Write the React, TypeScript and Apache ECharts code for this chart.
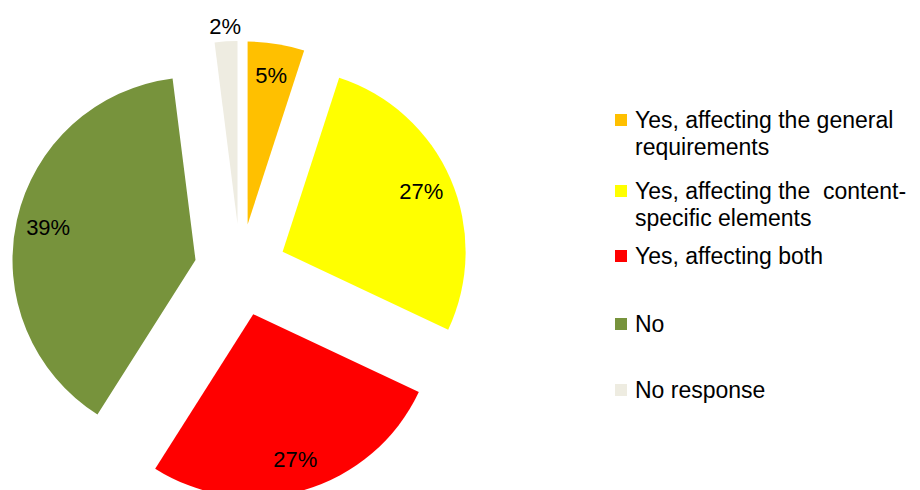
import React, { useEffect, useRef } from "react";
import * as echarts from "echarts";

const categories = [
  "Yes, affecting the general requirements",
  "Yes, affecting the  content-specific elements",
  "Yes, affecting both",
  "No",
  "No response",
];
// leading empty line keeps the legend icon level with the first text line
const legendLabels = [
  "\nYes, affecting the general\nrequirements",
  "\nYes, affecting the  content-\nspecific elements",
  "Yes, affecting both",
  "No",
  "No response",
];
const values = [5, 27, 27, 39, 2];
const colors = ["#FFC000", "#FFFF00", "#FF0000", "#77933C", "#EEECE1"];
const outsideLabelItems = ["No response"];

const FONT = "'Liberation Sans', Arial, sans-serif";

export default function App() {
  const ref = useRef<HTMLDivElement>(null);

  useEffect(() => {
    if (!ref.current) return;
    const chart = echarts.init(ref.current, null, { renderer: "svg" });

    const center = [240.4, 270];
    const R = 183;
    const offset = 46;

    const mainData = categories.map((name, i) => ({
      name,
      value: values[i],
      selected: true,
      itemStyle: { color: colors[i] },
    }));

    const innerLabelData = categories.map((name, i) => ({
      name,
      value: values[i],
      selected: true,
      itemStyle: { color: "rgba(0,0,0,0)" },
      label: { show: !outsideLabelItems.includes(name) },
    }));

    const outerLabelData = categories.map((name, i) => ({
      name,
      value: values[i],
      selected: true,
      itemStyle: { color: "rgba(0,0,0,0)" },
      label: { show: outsideLabelItems.includes(name) },
    }));

    const legendCenters = [120, 191, 256, 324, 390];
    const legends = legendLabels.map((lab, i) => {
      const lines = lab.split("\n").length;
      return {
        orient: "vertical",
        left: 615,
        top: legendCenters[i] - 6 - (lines * 27) / 2 + 6,
        padding: 0,
        itemWidth: 12,
        itemHeight: 12,
        icon: "rect",
        selectedMode: false,
        data: [categories[i]],
        formatter: () => lab,
        textStyle: {
          fontFamily: FONT,
          fontSize: 23,
          lineHeight: 27,
          color: "#000",
          padding: [0, 0, 0, 3],
        },
      };
    });

    const labelStyle = {
      position: "inside",
      fontFamily: FONT,
      fontSize: 22,
      color: "#000",
      formatter: (p: any) => `${p.value}%`,
    };

    chart.setOption({
      animation: false,
      backgroundColor: "#fff",
      legend: legends,
      series: [
        {
          type: "pie",
          center,
          radius: [0, R],
          startAngle: 90,
          clockwise: true,
          selectedMode: "multiple",
          selectedOffset: offset,
          label: { show: false },
          labelLine: { show: false },
          itemStyle: { borderWidth: 0 },
          emphasis: { disabled: true },
          silent: true,
          data: mainData,
        },
        {
          type: "pie",
          center,
          radius: [113, R],
          startAngle: 90,
          clockwise: true,
          selectedMode: "multiple",
          selectedOffset: offset,
          legendHoverLink: false,
          label: labelStyle,
          labelLine: { show: false },
          emphasis: { disabled: true },
          silent: true,
          data: innerLabelData,
        },
        {
          type: "pie",
          center,
          radius: [186, 204],
          startAngle: 90,
          clockwise: true,
          selectedMode: "multiple",
          selectedOffset: offset,
          legendHoverLink: false,
          label: labelStyle,
          labelLine: { show: false },
          emphasis: { disabled: true },
          silent: true,
          data: outerLabelData,
        },
      ],
    });

    return () => chart.dispose();
  }, []);

  return (
    <div
      ref={ref}
      style={{ position: "fixed", left: 0, top: 0, width: 920, height: 490 }}
    />
  );
}
